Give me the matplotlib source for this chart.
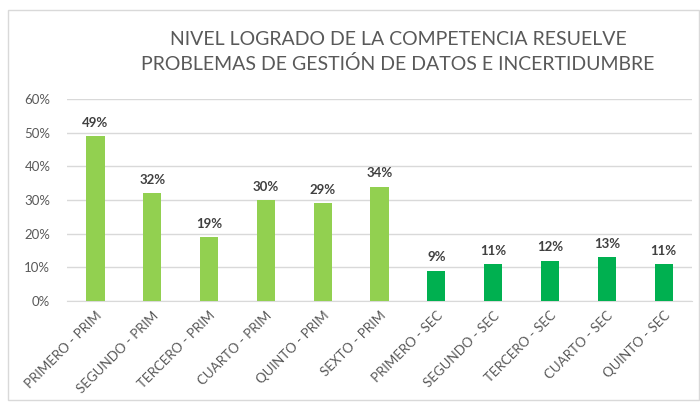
import matplotlib
matplotlib.use("Agg")
import matplotlib.pyplot as plt
from matplotlib.patches import Rectangle

categories = ["PRIMERO - PRIM", "SEGUNDO - PRIM", "TERCERO - PRIM", "CUARTO - PRIM",
              "QUINTO - PRIM", "SEXTO - PRIM", "PRIMERO - SEC", "SEGUNDO - SEC",
              "TERCERO - SEC", "CUARTO - SEC", "QUINTO - SEC"]
values = [0.49, 0.32, 0.19, 0.30, 0.29, 0.34, 0.09, 0.11, 0.12, 0.13, 0.11]
levels = ["PRIM"] * 6 + ["SEC"] * 5
colors_map = {"PRIM": "#92D050", "SEC": "#00B050"}
yticks = [0, 0.1, 0.2, 0.3, 0.4, 0.5, 0.6]
title = "NIVEL LOGRADO DE LA COMPETENCIA RESUELVE\nPROBLEMAS DE GESTIÓN DE DATOS E INCERTIDUMBRE"

plt.rcParams['font.family'] = ['Lato', 'DejaVu Sans']

W, H = 700, 403
fig = plt.figure(figsize=(W / 100, H / 100), dpi=100)
fig.patches.append(Rectangle((8 / W, 1 - 400 / H), 691 / W, 390 / H, transform=fig.transFigure,
                             fill=False, edgecolor="#D9D9D9", linewidth=1))

left, right, top, bottom = 67, 692, 99, 301
ax = fig.add_axes([left / W, 1 - bottom / H, (right - left) / W, (bottom - top) / H])

x = list(range(len(categories)))
ax.bar(x, values, width=0.32, color=[colors_map[l] for l in levels], zorder=3)
for xi, v in zip(x, values):
    ax.text(xi, v + 0.022, f"{round(v * 100)}%", ha="center", va="bottom",
            fontsize=9.5, fontweight="bold", color="#404040")

ax.set_ylim(0, 0.6)
ax.set_xlim(-0.5, len(categories) - 0.5)
ax.set_yticks(yticks)
ax.set_yticklabels([f"{int(round(t * 100))}%" for t in yticks], fontsize=9.5, color="#595959")
ax.yaxis.grid(True, color="#D9D9D9", linewidth=1, zorder=0)
ax.set_xticks(x)
ax.set_xticklabels(categories, rotation=45, ha="right", rotation_mode="anchor",
                   fontsize=9.5, color="#595959")
ax.tick_params(axis="both", length=0)
ax.tick_params(axis="y", pad=12)
ax.tick_params(axis="x", pad=6)
for s in ["top", "right", "left"]:
    ax.spines[s].set_visible(False)
ax.spines["bottom"].set_color("#D9D9D9")

fig.text(398 / W, 1 - 52 / H, title, ha="center", va="center", fontsize=14,
         color="#595959", linespacing=1.5)

fig.savefig("out.png", dpi=100)
